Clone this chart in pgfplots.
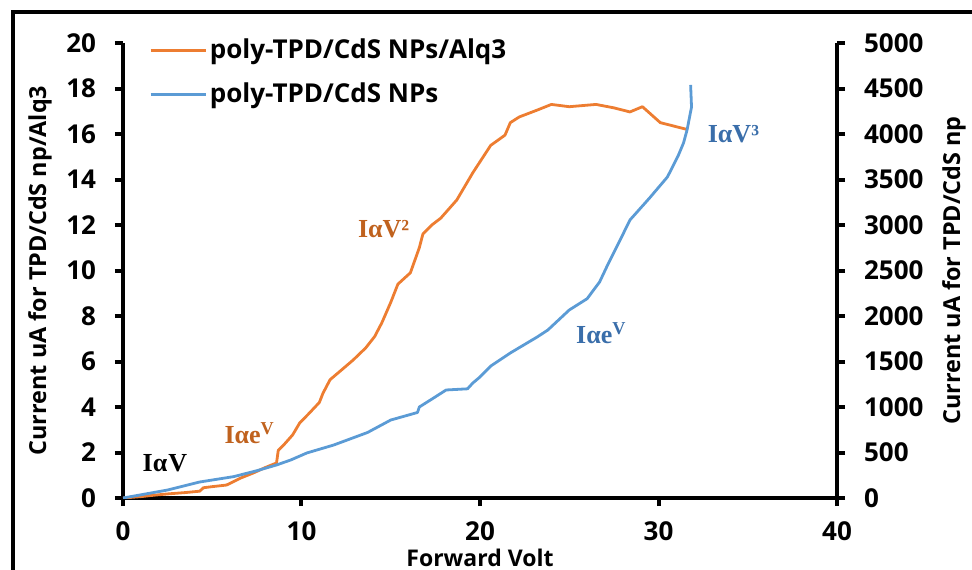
\documentclass[border=0pt]{standalone}
\usepackage{pgfplots}
\pgfplotsset{compat=1.18}
\usepackage{pgfplotstable}
\usepackage{fontspec}
\setmainfont{Open Sans}
\newfontfamily\serif{Liberation Serif}
\definecolor{cO}{RGB}{237,125,49}
\definecolor{cB}{RGB}{91,155,213}
\definecolor{aO}{RGB}{192,98,30}
\definecolor{aB}{RGB}{58,110,170}

\pgfplotstableread{
x y
0 0
1.0 0.06
1.7 0.12
2.5 0.18
3.5 0.24
4.3 0.30
4.5 0.45
5.0 0.50
5.8 0.57
6.6 0.88
7.3 1.10
8.0 1.35
8.6 1.54
8.7 2.10
9.0 2.33
9.5 2.77
9.9 3.30
10.4 3.70
11.0 4.20
11.2 4.60
11.6 5.20
12.2 5.60
12.9 6.07
13.6 6.60
14.1 7.10
14.5 7.70
15.0 8.60
15.4 9.40
16.1 9.90
16.6 11.00
16.8 11.60
17.3 12.00
17.8 12.30
18.7 13.10
19.6 14.30
20.1 14.90
20.6 15.50
21.4 15.95
21.7 16.50
22.2 16.75
23.2 17.05
24.0 17.30
25.0 17.20
26.5 17.30
27.5 17.15
28.4 16.97
29.1 17.20
30.1 16.50
31.6 16.20
}\orangedata

\pgfplotstableread{
x y
0 0
1.0 35
2.5 88
4.3 176
6.2 235
7.5 300
8.6 363
9.4 418
10.3 495
11.8 582
13.7 720
15.0 857
16.5 940
16.6 1000
17.4 1099
18.1 1187
19.3 1200
19.6 1264
20.0 1330
20.6 1450
21.7 1594
23.2 1769
23.8 1846
25.0 2066
26.0 2190
26.7 2374
27.1 2540
27.85 2835
28.4 3055
29.5 3297
30.5 3528
31.1 3760
31.4 3901
31.6 4044
31.85 4297
31.8 4539
}\bluedata

\pgfplotsset{
  base/.style={
    scale only axis, width=357pt, height=227.5pt,
    xmin=0, xmax=40, ymin=0,
    axis line style={line width=2pt, black},
    tick style={line width=2pt, black},
    tick align=outside, major tick length=4pt,
    tick label style={font=\bfseries\fontsize{13}{15}\selectfont, black},
    /pgf/number format/assume math mode=true,
    /pgf/number format/1000 sep={},
  }
}

\begin{document}
\begin{tikzpicture}
\useasboundingbox (-61.5pt,-35.5pt) rectangle (424.5pt,249pt);
\draw[line width=2pt] (-55pt,-45pt) -- (-55pt,243pt) -- (435pt,243pt);
\begin{axis}[base,
  ymax=20,
  axis x line*=bottom, axis y line*=left,
  xtick={0,10,20,30,40}, ytick={0,2,...,20},
  xticklabel style={inner ysep=0pt, yshift=-7.5pt},
  yticklabel style={xshift=-6pt},
  xlabel={Forward Volt}, ylabel={Current uA for TPD/CdS np/Alq3},
  every axis x label/.style={at={(axis description cs:0.5,0)}, yshift=-29.8pt, anchor=center,
    inner ysep=0pt, font=\bfseries\fontsize{11.5}{13}\selectfont},
  every axis y label/.style={at={(axis description cs:0,0.5)}, xshift=-41.5pt, rotate=90, anchor=center,
    font=\bfseries\fontsize{11.7}{14}\selectfont},
  legend cell align=left,
  legend image code/.code={\draw[#1, line width=1.4pt] (0pt,0pt) -- (27.5pt,0pt);},
  legend style={at={(rel axis cs:0.036,1.018)}, anchor=north west, draw=none, fill=none,
    inner xsep=0pt, inner ysep=0pt, row sep=6.5pt,
    font=\bfseries\fontsize{13}{15}\selectfont,
    nodes={inner xsep=1.5pt, inner ysep=2pt}},
]
\addplot[cO, line width=1.4pt, line join=round] table[x=x,y=y] {\orangedata};
\addlegendentry{poly-TPD/CdS NPs/Alq3}
\addlegendimage{cB, line width=1.4pt}
\addlegendentry{poly-TPD/CdS NPs}
\begin{scope}[font=\serif\bfseries\fontsize{13}{15}\selectfont]
\node[black] at (axis cs:2.35,1.54) {Iα\kern0.5ptV};
\node[aO] at (axis cs:7.1,2.85) {Iαe\textsuperscript{V}};
\node[aO] at (axis cs:14.6,11.8) {IαV²};
\node[aB] at (axis cs:26.8,7.25) {Iαe\textsuperscript{V}};
\node[aB] at (axis cs:34.2,16.0) {IαV³};
\end{scope}
\end{axis}
\begin{axis}[base,
  ymax=5000,
  axis x line=none, axis y line*=right,
  ytick={0,500,...,5000},
  yticklabel style={xshift=6pt},
  ylabel={Current uA for TPD/CdS np},
  every axis y label/.style={at={(axis description cs:1,0.5)}, xshift=58.5pt, rotate=90, anchor=center,
    font=\bfseries\fontsize{11.7}{14}\selectfont},
]
\addplot[cB, line width=1.4pt, line join=round] table[x=x,y=y] {\bluedata};
\end{axis}
\end{tikzpicture}
\end{document}
